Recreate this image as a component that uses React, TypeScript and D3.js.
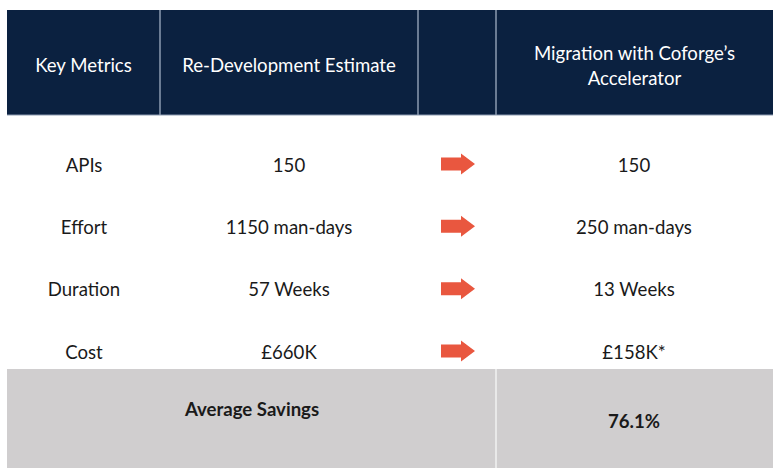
import React from 'react'
import * as d3 from 'd3'

const headers = ['Key Metrics', 'Re-Development Estimate', '', "Migration with Coforge’s\nAccelerator"]
const metrics = ['APIs', 'Effort', 'Duration', 'Cost']
const redevValues = ['150', '1150 man-days', '57 Weeks', '£660K']
const migrationValues = ['150', '250 man-days', '13 Weeks', '£158K*']
const savingsLabel = 'Average Savings'
const savingsValue = '76.1%'

const W = 783
const H = 475
const colEdges = [7, 160, 418, 496, 773]
const headerTop = 10
const headerBottom = 115
const footerTop = 369
const footerBottom = 468

const navy = '#0b2140'
const gray = '#d0cecf'
const arrowColor = '#e9573f'
const font = 'Lato, "Open Sans", sans-serif'
const fs = 18.6

function App() {
  const y = d3.scalePoint<string>()
    .domain(metrics)
    .range([165, 352])

  const colCenter = (i: number) => (colEdges[i] + colEdges[i + 1]) / 2

  // arrow shape drawn relative to its center
  const arrowPath = d3.line()([
    [-17, -6.5], [3, -6.5], [3, -10.5], [17, 0], [3, 10.5], [3, 6.5], [-17, 6.5]
  ]) + 'Z'

  return (
    <svg width={W} height={H} style={{ position: 'absolute', left: 0, top: 0, background: '#fff' }}
      fontFamily={font}>
      <rect x={colEdges[0]} y={headerTop} width={colEdges[4] - colEdges[0]} height={headerBottom - headerTop} fill={navy} />
      {colEdges.slice(1, 4).map((x, i) => (
        <line key={i} x1={x} x2={x} y1={headerTop} y2={headerBottom} stroke="#8d9bb0" strokeWidth={1.5} />
      ))}
      <line x1={colEdges[0]} x2={colEdges[4]} y1={headerBottom} y2={headerBottom} stroke="#8d9bb0" strokeWidth={1} />
      {headers.map((h, i) => {
        const lines = h.split('\n')
        const mid = (headerTop + headerBottom) / 2 + 3
        return (
          <text key={i} x={colCenter(i)} textAnchor="middle" fill="#fff" fontSize={fs}>
            {lines.map((l, j) => (
              <tspan key={j} x={colCenter(i)} y={mid + (j - (lines.length - 1) / 2) * 25} dy="0.35em">{l}</tspan>
            ))}
          </text>
        )
      })}

      {metrics.map((m, i) => (
        <g key={m} transform={`translate(0,${y(m)})`}>
          <text x={84} dy="0.35em" textAnchor="middle" fontSize={fs} fill="#1a1a1a">{m}</text>
          <text x={colCenter(1)} dy="0.35em" textAnchor="middle" fontSize={fs} fill="#1a1a1a">{redevValues[i]}</text>
          <path d={arrowPath} transform={`translate(458,-1)`} fill={arrowColor} />
          <text x={634} dy="0.35em" textAnchor="middle" fontSize={fs} fill="#1a1a1a">{migrationValues[i]}</text>
        </g>
      ))}

      <rect x={colEdges[0]} y={footerTop} width={colEdges[4] - colEdges[0]} height={footerBottom - footerTop} fill={gray} />
      <line x1={colEdges[3]} x2={colEdges[3]} y1={footerTop} y2={footerBottom} stroke="#f2f2f2" strokeWidth={1.5} />
      <text x={252} y={409} dy="0.35em" textAnchor="middle" fontSize={fs} fontWeight="bold" fill="#1a1a1a">{savingsLabel}</text>
      <text x={634} y={421} dy="0.35em" textAnchor="middle" fontSize={fs} fontWeight="bold" fill="#1a1a1a">{savingsValue}</text>
    </svg>
  )
}

export default App
